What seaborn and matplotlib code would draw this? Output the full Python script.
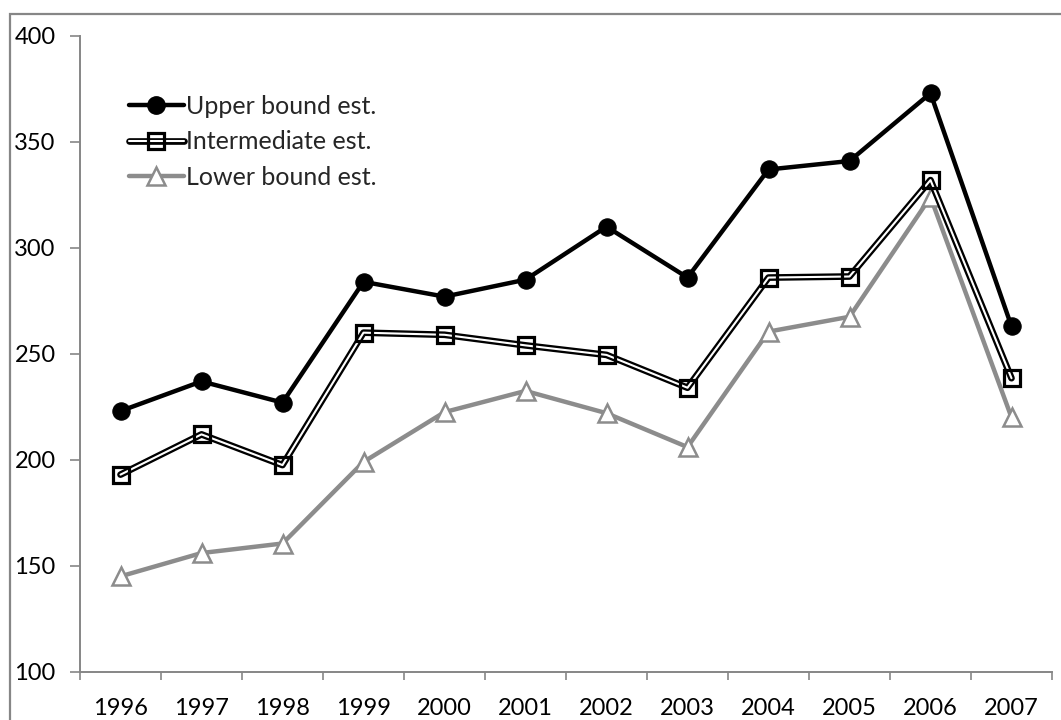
import matplotlib
matplotlib.use("Agg")
import matplotlib.pyplot as plt
import seaborn as sns
import numpy as np
import pandas as pd
from matplotlib.lines import Line2D
from matplotlib.legend_handler import HandlerTuple
from matplotlib.patches import Rectangle

years = ["1996", "1997", "1998", "1999", "2000", "2001",
         "2002", "2003", "2004", "2005", "2006", "2007"]
upper = [223, 237, 227, 284, 277, 285, 310, 286, 337, 341, 373, 263]
intermediate = [193, 212, 197.5, 260, 259, 254, 249.5, 234, 286, 286.5, 332, 238.5]
lower = [145, 156, 160.5, 199, 222.5, 232.5, 222, 206, 260.5, 267.5, 324, 220]

labels = ["Upper bound est.", "Intermediate est.", "Lower bound est."]

sns.set_theme(style="white")
plt.rcParams["font.family"] = ["Lato", "DejaVu Sans"]

pos = np.arange(len(years))
df = pd.DataFrame({"pos": pos, "upper": upper,
                   "intermediate": intermediate, "lower": lower})

fig = plt.figure(figsize=(10.61, 7.2), dpi=100)
ax = fig.add_axes([80 / 1061, 1 - 671.7 / 720, (1052 - 80) / 1061, (671.7 - 36) / 720])

GREY = "#868686"
LOW = "#8c8c8c"

# Upper bound: thick black line, filled circles
sns.lineplot(data=df, x="pos", y="upper", ax=ax, color="black", linewidth=3.2,
             marker="o", markersize=12.5, markeredgecolor="black",
             markerfacecolor="black", zorder=4)

# Intermediate: double (black outer, white inner) line with open squares
sns.lineplot(data=df, x="pos", y="intermediate", ax=ax, color="black",
             linewidth=4.8, zorder=3)
sns.lineplot(data=df, x="pos", y="intermediate", ax=ax, color="white",
             linewidth=1.5, zorder=3.1)
sns.lineplot(data=df, x="pos", y="intermediate", ax=ax, linestyle="",
             marker="s", markersize=12, markerfacecolor="none",
             markeredgecolor="black", markeredgewidth=2.3, zorder=3.2)

# Lower bound: grey line, white-filled triangles
sns.lineplot(data=df, x="pos", y="lower", ax=ax, color=LOW, linewidth=3.2,
             marker="^", markersize=13, markerfacecolor="white",
             markeredgecolor=LOW, markeredgewidth=1.8, zorder=2)

ax.set_xlim(-0.5, len(years) - 0.5)
ax.set_ylim(100, 400)
ax.set_yticks([100, 150, 200, 250, 300, 350, 400])
ax.set_xticks(pos)
ax.set_xticklabels(years)
ax.set_xticks(np.arange(-0.5, len(years)), minor=True)
ax.set_xlabel("")
ax.set_ylabel("")

for side in ("top", "right"):
    ax.spines[side].set_visible(False)
for side in ("left", "bottom"):
    ax.spines[side].set_color(GREY)
    ax.spines[side].set_linewidth(1.4)

ax.tick_params(axis="x", which="major", length=0, pad=19, labelsize=17,
               labelcolor="black")
ax.tick_params(axis="x", which="minor", length=6, width=1.2, color=GREY,
               direction="out", bottom=True)
ax.tick_params(axis="y", which="major", length=7, width=1.2, color=GREY,
               direction="out", left=True, pad=10.5, labelsize=17,
               labelcolor="black")

h_up = Line2D([], [], color="black", linewidth=3.2, marker="o", markersize=12.5)
h_mid = (Line2D([], [], color="black", linewidth=4.8),
         Line2D([], [], color="white", linewidth=1.5),
         Line2D([], [], linestyle="", marker="s", markersize=12,
                markerfacecolor="none", markeredgecolor="black",
                markeredgewidth=2.3))
h_low = Line2D([], [], color=LOW, linewidth=3.2, marker="^", markersize=13,
               markerfacecolor="white", markeredgecolor=LOW,
               markeredgewidth=1.8)
ax.legend([h_up, h_mid, h_low], labels,
          handler_map={tuple: HandlerTuple(ndivide=1, pad=0)},
          loc="upper left", bbox_to_anchor=(0.04, 0.923), frameon=False,
          fontsize=18, handlelength=2.2, handletextpad=0.08,
          labelspacing=0.5, borderaxespad=0)

# Outer chart frame
fig.patches.append(Rectangle((10 / 1061, -0.1), 1.2, 1.1 - 14 / 720,
                             transform=fig.transFigure, fill=False,
                             edgecolor=GREY, linewidth=1.6, zorder=0))

fig.savefig("out.png", dpi=100)
